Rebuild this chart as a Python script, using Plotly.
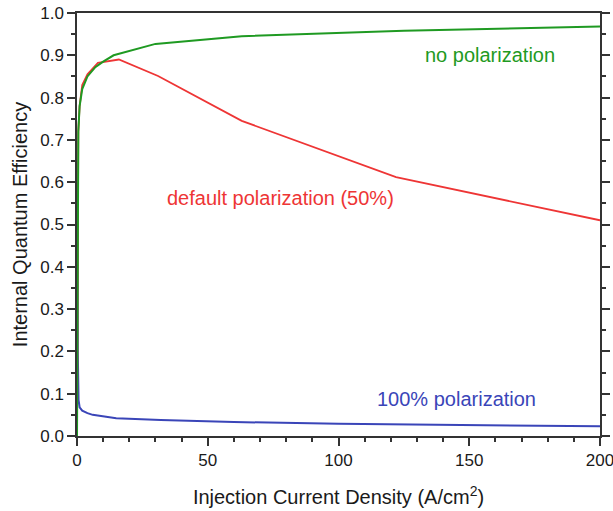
import plotly.graph_objects as go

# Data
green_x = [0, 0.2, 0.5, 1, 2, 4, 7, 10, 14, 30, 63, 125, 200]
green_y = [0, 0.6, 0.72, 0.78, 0.82, 0.85, 0.872, 0.885, 0.90, 0.927, 0.945, 0.958, 0.968]

red_x = [0, 0.2, 0.5, 1, 2, 4, 8, 16, 31, 63, 122, 200]
red_y = [0, 0.6, 0.72, 0.78, 0.83, 0.855, 0.882, 0.89, 0.851, 0.745, 0.612, 0.51]

blue_x = [0, 0.1, 0.3, 0.6, 1, 2, 4, 6, 10, 15, 32, 60, 100, 150, 200]
blue_y = [0, 0.6, 0.2, 0.085, 0.068, 0.06, 0.054, 0.05, 0.046, 0.042, 0.038, 0.033, 0.029, 0.026, 0.023]

labels = ["no polarization", "default polarization (50%)", "100% polarization"]
label_x = [158, 78, 145]
label_y = [0.90, 0.563, 0.087]

GREEN = "#1f9a22"
RED = "#ee3535"
BLUE = "#3a45b8"
colors = [GREEN, RED, BLUE]

font = "Liberation Sans, Arial, sans-serif"
txtcol = "#1a1a1a"

fig = go.Figure()
fig.add_trace(go.Scatter(x=blue_x, y=blue_y, mode="lines", line=dict(color=BLUE, width=2)))
fig.add_trace(go.Scatter(x=red_x, y=red_y, mode="lines", line=dict(color=RED, width=1.8)))
fig.add_trace(go.Scatter(x=green_x, y=green_y, mode="lines", line=dict(color=GREEN, width=2)))

for t, x, y, c in zip(labels, label_x, label_y, colors):
    fig.add_annotation(x=x, y=y, text=t, showarrow=False,
                       font=dict(family=font, size=20, color=c))

axcol = "#333333"
fig.update_xaxes(range=[0, 200], tickvals=[0, 50, 100, 150, 200],
                 ticks="outside", ticklen=8, tickwidth=1.5, tickcolor=axcol,
                 showline=True, linecolor=axcol, linewidth=1.5, mirror=True,
                 showgrid=False, zeroline=False, automargin=False,
                 ticklabeloverflow="allow",
                 minor=dict(dtick=10, ticks="outside", ticklen=4, tickwidth=1.5, tickcolor=axcol),
                 tickfont=dict(family=font, size=17, color=txtcol),
                 title=dict(text="Injection Current Density (A/cm<sup>2</sup>)",
                            font=dict(family=font, size=20, color=txtcol), standoff=21))
fig.update_yaxes(range=[0, 1.0], tickvals=[i / 10 for i in range(11)],
                 ticktext=[f"{i/10:.1f}" for i in range(11)],
                 ticks="outside", ticklen=8, tickwidth=1.5, tickcolor=axcol,
                 showline=True, linecolor=axcol, linewidth=1.5, mirror="ticks",
                 showgrid=False, zeroline=False, automargin=False,
                 ticklabeloverflow="allow",
                 minor=dict(dtick=0.05, ticks="outside", ticklen=4, tickwidth=1.5, tickcolor=axcol),
                 tickfont=dict(family=font, size=17, color=txtcol),
                 title=dict(text="Internal Quantum Efficiency",
                            font=dict(family=font, size=20, color=txtcol), standoff=7))

fig.update_layout(width=613, height=511, showlegend=False,
                  margin=dict(l=77, r=13, t=13, b=75),
                  plot_bgcolor="white", paper_bgcolor="white")

fig.write_html("out.html")
